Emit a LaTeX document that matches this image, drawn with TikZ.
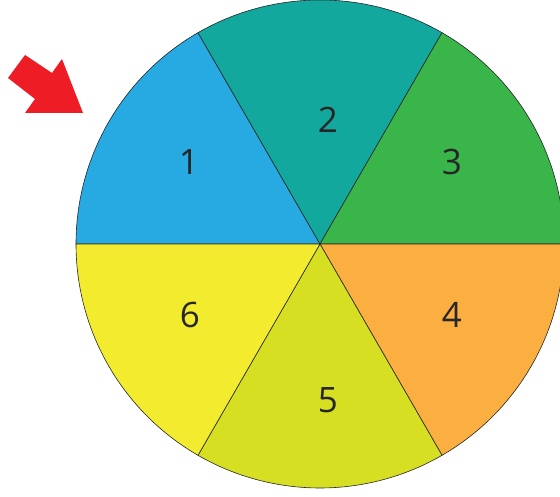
\documentclass[tikz,border=0pt]{standalone}
\usepackage{fontspec}
\setmainfont{Open Sans}
\usepackage{xcolor}
\usetikzlibrary{positioning, calc}

\definecolor{secblue}{HTML}{27A9E1}
\definecolor{secteal}{HTML}{13A89E}
\definecolor{secgreen}{HTML}{3AB54A}
\definecolor{secorange}{HTML}{FBAF41}
\definecolor{seclime}{HTML}{D7DF23}
\definecolor{secyellow}{HTML}{F2EB2E}
\definecolor{arrowred}{HTML}{EE1C25}

\begin{document}
\begin{tikzpicture}[
    x=1pt, y=1pt,
    sector/.style={draw=black!85, line width=0.6pt, fill=#1},
    numlabel/.style={font=\fontsize{35}{40}\selectfont, text=black!85, inner sep=0pt}
]

% Page frame
\useasboundingbox (0,0) rectangle (560,497);

% Wheel centre
\coordinate (centre) at (320,253);

% Sectors (clockwise from the top left)
\filldraw[sector=secblue] (centre) -- ++(120:244) arc[start angle=120, end angle=180, radius=244] -- cycle;
\filldraw[sector=secteal] (centre) -- ++(60:244) arc[start angle=60, end angle=120, radius=244] -- cycle;
\filldraw[sector=secgreen] (centre) -- ++(0:244) arc[start angle=0, end angle=60, radius=244] -- cycle;
\filldraw[sector=secorange] (centre) -- ++(-60:244) arc[start angle=-60, end angle=0, radius=244] -- cycle;
\filldraw[sector=seclime] (centre) -- ++(-120:244) arc[start angle=-120, end angle=-60, radius=244] -- cycle;
\filldraw[sector=secyellow] (centre) -- ++(180:244) arc[start angle=180, end angle=240, radius=244] -- cycle;

% Numbers
\node[numlabel] (one) at (189,335) {1};
\node[numlabel] (two) at (328,377) {2};
\node[numlabel] (three) at (452,335) {3};
\node[numlabel] (four) at (452,182) {4};
\node[numlabel] (five) at (328,97) {5};
\node[numlabel] (six) at (190,182) {6};

% Pointer arrow
\fill[arrowred] (8,419) -- (25,442) -- (52,424) -- (62,438) -- (83,384) -- (25,384) -- (35,398) -- cycle;

\end{tikzpicture}
\end{document}
